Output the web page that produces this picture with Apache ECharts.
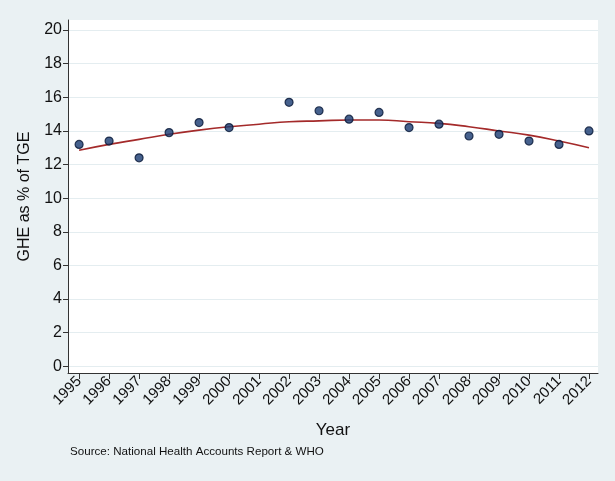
<!DOCTYPE html>
<html><head><meta charset="utf-8">
<script src="https://cdn.jsdelivr.net/npm/echarts@6/dist/echarts.min.js"></script>
<style>html,body{margin:0;padding:0;background:#eaf1f3;}#c{width:615px;height:481px;}</style>
</head><body><div id="c"></div>
<script>
var years = [1995,1996,1997,1998,1999,2000,2001,2002,2003,2004,2005,2006,2007,2008,2009,2010,2011,2012];
var ghe = [13.2,13.4,12.4,13.9,14.5,14.2,null,15.7,15.2,14.7,15.1,14.2,14.4,13.7,13.8,13.4,13.2,14.0];
var fit = [12.85,13.2,13.5,13.8,14.05,14.25,14.4,14.55,14.6,14.65,14.65,14.55,14.45,14.25,14.0,13.75,13.4,13.0];
var yTicks = [0,2,4,6,8,10,12,14,16,18,20];

var chart = echarts.init(document.getElementById('c'));
chart.setOption({
  backgroundColor: '#eaf1f3',
  animation: false,
  graphic: [{type:'text', left: 70, top: 446, style:{text:'Source: National Health Accounts Report & WHO', font:'11.6px "Liberation Sans", Arial', fill:'#111'}}],
  grid: {left: 68, right: 17, top: 20, bottom: 108, show: true, backgroundColor: '#ffffff', borderWidth: 0},
  xAxis: {
    type: 'value', min: 1994.63, max: 2012.3,
    name: 'Year', nameLocation: 'middle', nameGap: 49,
    nameTextStyle: {fontSize: 17, color: '#111', fontFamily: 'Liberation Sans'},
    axisLine: {show: true, onZero: false, lineStyle: {color: '#333', width: 1}},
    axisTick: {show: true, customValues: years, length: 6, lineStyle: {color: '#333'}},
    axisLabel: {customValues: years, rotate: 45, fontSize: 15, color: '#111', fontFamily: 'Liberation Sans', margin: 6, formatter: function(v){return String(v);}},
    splitLine: {show: false}
  },
  yAxis: {
    type: 'value', min: -0.4, max: 20.6,
    name: 'GHE as % of TGE', nameLocation: 'middle', nameGap: 35,
    nameTextStyle: {fontSize: 16, color: '#111', fontFamily: 'Liberation Sans'},
    axisLine: {show: true, lineStyle: {color: '#333', width: 1}},
    axisTick: {show: true, customValues: yTicks, length: 5, lineStyle: {color: '#333'}},
    axisLabel: {customValues: yTicks, fontSize: 16, color: '#111', fontFamily: 'Liberation Sans', margin: 6},
    splitLine: {show: true, lineStyle: {color: '#e4edf0', width: 1}}
  },
  series: [
    {type: 'line', data: years.map(function(y,i){return [y, fit[i]];}), showSymbol: false, symbol: 'none', smooth: true,
     lineStyle: {color: '#a42a2a', width: 1.6}, z: 2},
    {type: 'scatter', data: years.map(function(y,i){return [y, ghe[i]];}).filter(function(d){return d[1]!==null;}),
     symbolSize: 8, itemStyle: {color: '#183a70', borderColor: '#081634', borderWidth: 1.2}, z: 3}
  ]
});
</script></body></html>
